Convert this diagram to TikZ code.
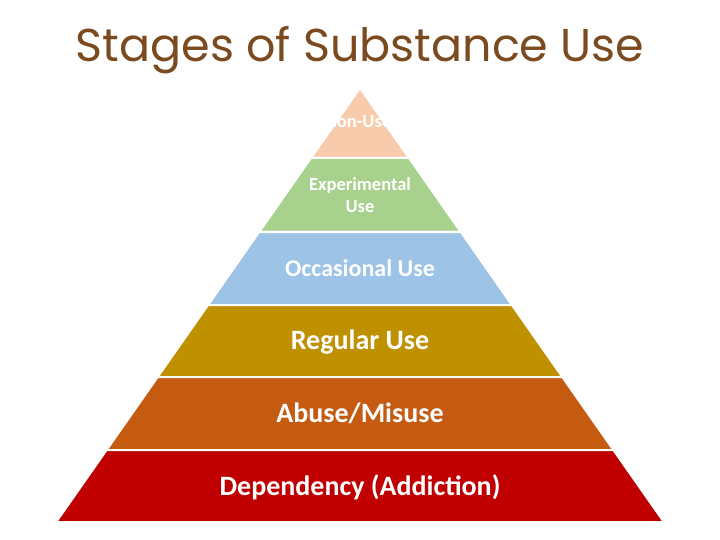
\documentclass[tikz,border=0pt]{standalone}
\usepackage{fontspec}
\setmainfont{Carlito}
\newfontfamily\titlefont{Poppins}
\definecolor{cA}{HTML}{F8CBAD}
\definecolor{cB}{HTML}{A9D18E}
\definecolor{cC}{HTML}{9DC3E6}
\definecolor{cD}{HTML}{BF9000}
\definecolor{cE}{HTML}{C55A11}
\definecolor{cF}{HTML}{C00000}
\definecolor{titlec}{HTML}{7B4A1E}
\begin{document}
\begin{tikzpicture}[x=1pt,y=-1pt,
  layer/.style={draw=white,line width=2pt},
  lbl/.style={text=white,font=\bfseries,align=center}]
\useasboundingbox (0,0) rectangle (720,540);
\fill[white] (0,0) rectangle (720,540);
\def\xl#1{(360-0.7*(#1-88))}
\def\xr#1{(360+0.7*(#1-88))}
\filldraw[layer,fill=cA] (360,88) -- ({\xr{158}},158) -- ({\xl{158}},158) -- cycle;
\filldraw[layer,fill=cB] ({\xl{158}},158) -- ({\xr{158}},158) -- ({\xr{232}},232) -- ({\xl{232}},232) -- cycle;
\filldraw[layer,fill=cC] ({\xl{232}},232) -- ({\xr{232}},232) -- ({\xr{305}},305) -- ({\xl{305}},305) -- cycle;
\filldraw[layer,fill=cD] ({\xl{305}},305) -- ({\xr{305}},305) -- ({\xr{377}},377) -- ({\xl{377}},377) -- cycle;
\filldraw[layer,fill=cE] ({\xl{377}},377) -- ({\xr{377}},377) -- ({\xr{450}},450) -- ({\xl{450}},450) -- cycle;
\filldraw[layer,fill=cF] ({\xl{450}},450) -- ({\xr{450}},450) -- ({\xr{522}},522) -- ({\xl{522}},522) -- cycle;
\node[font=\titlefont\fontsize{46}{48}\selectfont,text=titlec] (title) at (360,50) {Stages of Substance Use};
\node[lbl,font=\bfseries\fontsize{18.5}{20}\selectfont] (n1) at (358,122) {Non-Use};
\node[lbl,font=\bfseries\fontsize{18.5}{22}\selectfont] (n2) at (360,195) {Experimental\\Use};
\node[lbl,font=\bfseries\fontsize{24}{26}\selectfont] (n3) at (360,268) {Occasional Use};
\node[lbl,font=\bfseries\fontsize{28}{30}\selectfont] (n4) at (360,342) {Regular Use};
\node[lbl,font=\bfseries\fontsize{28}{30}\selectfont] (n5) at (360,413) {Abuse/Misuse};
\node[lbl,font=\bfseries\fontsize{28}{30}\selectfont] (n6) at (360,487) {Dependency (Addiction)};
\end{tikzpicture}
\end{document}
